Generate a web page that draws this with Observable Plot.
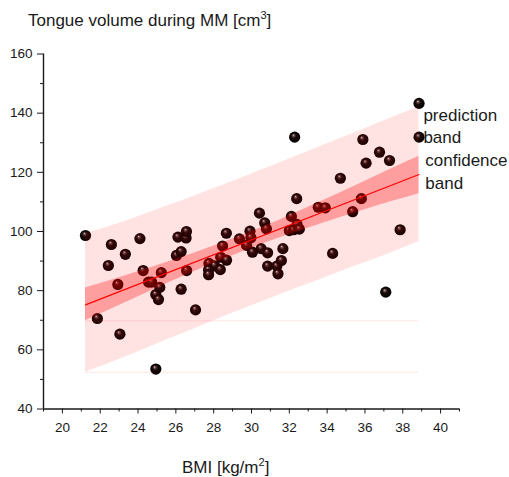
<!DOCTYPE html>
<html><head><meta charset="utf-8">
<script src="https://cdn.jsdelivr.net/npm/d3@7"></script>
<script src="https://cdn.jsdelivr.net/npm/@observablehq/plot@0.6"></script>
<style>body{margin:0;background:#fff} svg{display:block}</style>
</head><body><div id="chart"></div>
<script>
const bmi = [21.22,21.85,22.43,22.59,22.93,23.04,23.33,24.10,24.27,24.55,24.72,24.94,24.94,25.08,25.15,25.23,26.03,26.11,26.28,26.28,26.54,26.56,26.57,27.04,27.75,28.05,27.73,27.73,28.35,28.37,28.47,28.67,28.68,29.36,29.74,29.92,29.97,30.05,30.42,30.51,30.70,30.79,30.85,30.85,31.34,31.58,31.40,31.66,32.00,32.11,32.23,32.41,32.53,32.28,32.39,33.53,33.90,34.29,34.70,35.35,35.81,35.89,36.06,36.77,37.10,37.30,37.86,38.86,38.86];
const volume = [98.65,70.6,88.5,95.6,82.1,65.3,92.3,97.6,86.8,82.9,82.9,53.5,78.7,77.0,81.1,86.1,91.9,98.1,93.2,80.5,97.8,100.0,86.8,73.5,89.2,88.4,87.0,85.4,87.1,91.3,95.1,99.4,90.3,97.5,95.3,100.1,97.9,93.0,106.2,94.2,102.9,100.9,92.8,88.3,88.3,90.2,85.7,94.2,100.3,105.1,100.6,102.4,100.8,131.9,111.1,108.2,108.0,92.6,118.0,106.7,111.1,131.1,123.1,126.8,79.5,124.0,100.6,143.3,131.9];

const bandX  = [21.22, 23.5, 25.5, 27.5, 29.6, 31.5, 33.5, 35.5, 37.5, 38.86];
const confLo = [69.8, 76.4, 82.3, 87.9, 93.35, 97.9, 102.2, 106.3, 110.3, 112.8];
const confHi = [80.9, 85.4, 89.5, 93.9, 98.95, 103.9, 109.6, 115.5, 121.5, 125.4];
const predLo = [52.4, 58.0, 63.3, 68.5, 73.85, 78.6, 83.4, 88.3, 93.1, 96.6];
const predHi = [99.2, 103.8, 108.5, 113.3, 118.45, 123.2, 128.4, 133.5, 138.7, 142.0];
const fitX = [21.22, 38.86];
const fitY = [75.2, 119.3];
const guideY = [69.8, 52.4];

const xTicks = [20,22,24,26,28,30,32,34,36,38,40];
const xMinor = [19,21,23,25,27,29,31,33,35,37,39,41];
const yTicks = [40,60,80,100,120,140,160];
const yMinor = [50,70,90,110,130,150];

const bandLabels = ["prediction","band","confidence","band"];
const bandLabelX = [39.09, 39.09, 39.19, 39.19];
const bandLabelY = [139.2, 131.8, 124.0, 116.2];

const pts = bmi.map((x,i)=>({x, y: volume[i]}));
const band = bandX.map((x,i)=>({x, cl: confLo[i], ch: confHi[i], pl: predLo[i], ph: predHi[i]}));
const fit = fitX.map((x,i)=>({x, y: fitY[i]}));
const labels = bandLabels.map((t,i)=>({t, x: bandLabelX[i], y: bandLabelY[i]}));

const font = "'Liberation Sans', Arial, sans-serif";
const ink = "#1a1a1a";

const chart = Plot.plot({
  width: 509, height: 477,
  marginLeft: 43, marginRight: 50, marginTop: 53.5, marginBottom: 68.5,
  style: {fontFamily: font, background: "#fff", overflow: "visible"},
  x: {domain: [19, 41], label: null},
  y: {domain: [40, 160], label: null},
  marks: [
    Plot.dot(pts, {x: "x", y: "y", r: 5.6, fill: "url(#ball)", stroke: "none"}),
    Plot.areaY(band, {x: "x", y1: "pl", y2: "ph", fill: "#ff0000", fillOpacity: 0.11, curve: "monotone-x"}),
    Plot.areaY(band, {x: "x", y1: "cl", y2: "ch", fill: "#ff0000", fillOpacity: 0.30, curve: "monotone-x"}),
    Plot.ruleY(guideY, {x1: fitX[0], x2: fitX[1], stroke: "#ff0000", strokeOpacity: 0.1}),
    Plot.line(fit, {x: "x", y: "y", stroke: "#ff0000", strokeWidth: 1.1}),
    Plot.text(labels, {x: "x", y: "y", text: "t", textAnchor: "start", fontSize: 17, fill: ink}),
    Plot.axisX(xTicks, {tickSize: 5, tickPadding: 8, fontSize: 13.5, stroke: ink, fill: ink, label: null}),
    Plot.axisX(xMinor, {tickSize: 3, tickFormat: () => "", stroke: ink, label: null}),
    Plot.axisY(yTicks, {tickSize: 6, tickPadding: 5, fontSize: 13.5, stroke: ink, fill: ink, label: null}),
    Plot.axisY(yMinor, {tickSize: 3, tickFormat: () => "", stroke: ink, label: null}),
    Plot.ruleY([40], {stroke: ink, strokeWidth: 1.4}),
    Plot.ruleX([19], {stroke: ink, strokeWidth: 1.4})
  ]
});

const svg = d3.select(chart);
svg.insert("defs", ":first-child").html(`
  <radialGradient id="ball" cx="0.5" cy="0.5" r="0.5" fx="0.38" fy="0.3">
    <stop offset="0" stop-color="#f2e6e6"/>
    <stop offset="0.14" stop-color="#7a6060"/>
    <stop offset="0.42" stop-color="#1c0c0c"/>
    <stop offset="1" stop-color="#000000"/>
  </radialGradient>`);

const title = svg.append("text").attr("x", 28).attr("y", 26).attr("text-anchor", "start")
  .attr("font-family", font).attr("font-size", 17).attr("fill", ink);
title.append("tspan").text("Tongue volume during MM [cm");
title.append("tspan").attr("dy", -7).attr("font-size", 11).text("3");
title.append("tspan").attr("dy", 7).text("]");

const xl = svg.append("text").attr("x", 182).attr("y", 473).attr("text-anchor", "start")
  .attr("font-family", font).attr("font-size", 17).attr("fill", ink);
xl.append("tspan").text("BMI [kg/m");
xl.append("tspan").attr("dy", -7).attr("font-size", 11).text("2");
xl.append("tspan").attr("dy", 7).text("]");

document.getElementById("chart").appendChild(chart);
</script>
</body></html>
